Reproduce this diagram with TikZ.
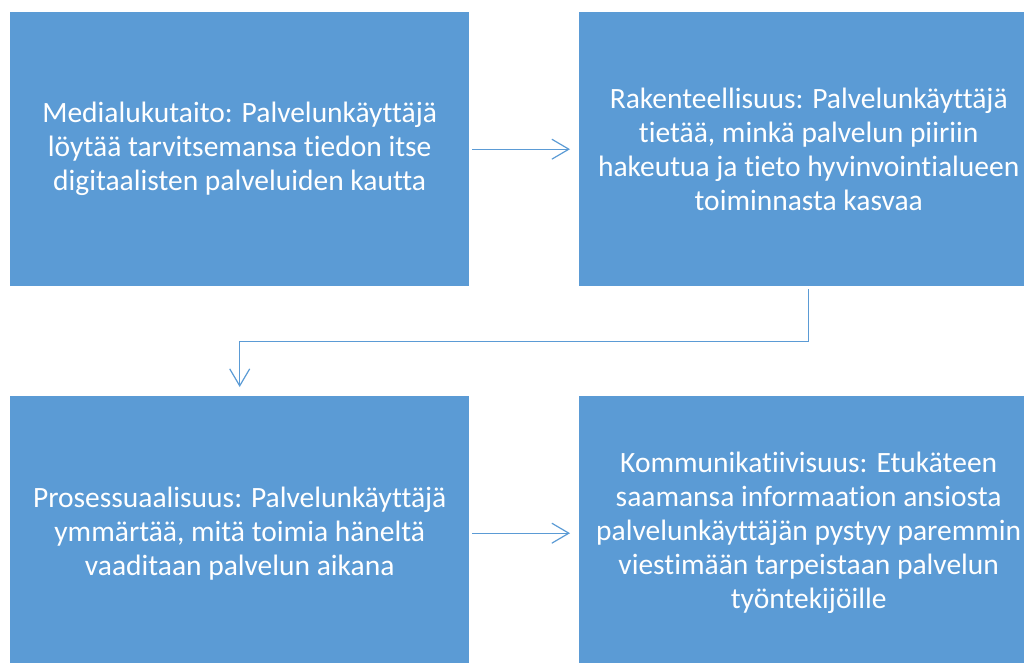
\documentclass[tikz,border=0pt]{standalone}
\usepackage{fontspec}
\setmainfont{Carlito}[Ligatures={NoCommon}]
\usepackage{xcolor}
\usetikzlibrary{arrows.meta,calc}

\definecolor{boxblue}{RGB}{91,155,213}

\begin{document}
\begin{tikzpicture}[x=1pt,y=1pt,yscale=-1,
	box/.style={draw=none,fill=boxblue,minimum width=459pt,minimum height=274pt,inner sep=0pt,
		anchor=north west,align=center,text=white,
		font=\fontsize{29.5pt}{34pt}\selectfont},
	conn/.style={draw=boxblue,line width=1.2pt,-{Straight Barb[length=17pt,width=20pt,line width=1.2pt]}}]
	\useasboundingbox (0,0) rectangle (1024,663);
	\clip (0,0) rectangle (1024,663);
	
	%Shape: Rectangle top left
	\node [box] (media) at (10,12) {Medialukutaito: Palvelunkäyttäjä\\löytää tarvitsemansa tiedon itse\\digitaalisten palveluiden kautta};
	%Shape: Rectangle top right
	\node [box] (rakenne) at (579,12) {Rakenteellisuus: Palvelunkäyttäjä\\tietää, minkä palvelun piiriin\\hakeutua ja tieto hyvinvointialueen\\toiminnasta kasvaa};
	%Shape: Rectangle bottom left
	\node [box] (prosessi) at (10,396) {Prosessuaalisuus: Palvelunkäyttäjä\\ymmärtää, mitä toimia häneltä\\vaaditaan palvelun aikana};
	%Shape: Rectangle bottom right
	\node [box] (kommu) at (579,396) {Kommunikatiivisuus: Etukäteen\\saamansa informaation ansiosta\\palvelunkäyttäjän pystyy paremmin\\viestimään tarpeistaan palvelun\\työntekijöille};
	
	%Straight Lines
	\draw [conn] ($(media.east)+(3,0)$) -- ($(rakenne.west)+(-9,0)$);
	\draw [conn] ($(prosessi.east)+(3,0)$) -- ($(kommu.west)+(-9,0)$);
	%Elbow connector
	\draw [conn] ($(rakenne.south)+(0,3)$) -- ++(0,52) -| ($(prosessi.north)+(0,-9)$);
	
\end{tikzpicture}
\end{document}
